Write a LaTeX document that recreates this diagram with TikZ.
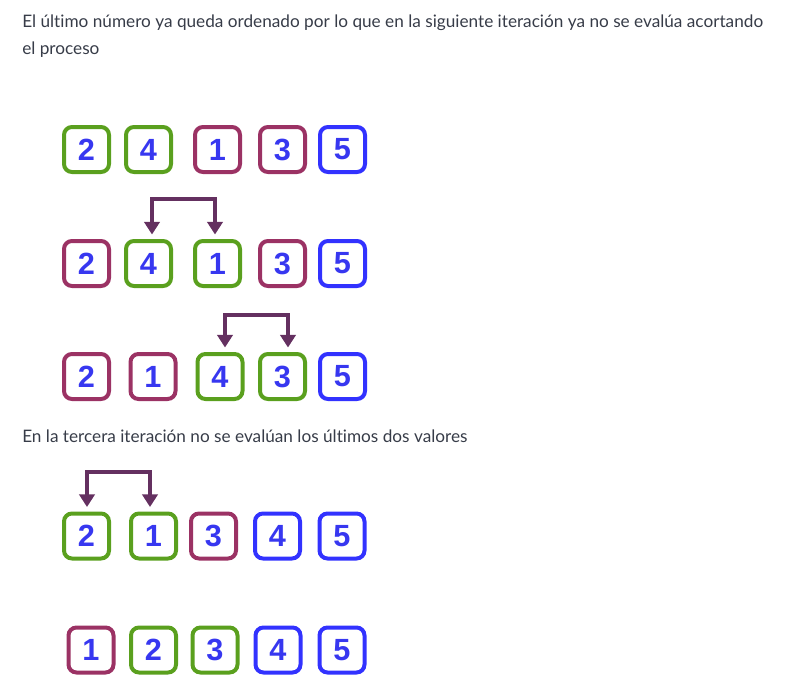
\documentclass[tikz,border=0pt]{standalone}
\usepackage{fontspec}
\setmainfont{Lato}[Ligatures={NoCommon}]
\newfontfamily\digitfont{Liberation Sans}
\usetikzlibrary{arrows.meta}
\definecolor{txtgray}{RGB}{55,60,72}
\definecolor{bgreen}{RGB}{90,160,30}
\definecolor{bmaroon}{RGB}{155,50,100}
\definecolor{bblue}{RGB}{50,50,255}
\definecolor{digitblue}{RGB}{55,55,240}
\definecolor{arrowpurple}{RGB}{100,48,96}
\tikzset{
  numbox/.style={draw, line width=3pt, rounded corners=6pt, minimum size=33.75pt, inner sep=0pt,
    font=\digitfont\bfseries\fontsize{23}{23}\selectfont, text=digitblue},
  gbox/.style={numbox, draw=bgreen},
  mbox/.style={numbox, draw=bmaroon},
  ubox/.style={numbox, draw=bblue},
  swap/.style={draw=arrowpurple, line width=2.8pt, -{Triangle[width=11.5pt,length=9.5pt]}},
  swapline/.style={draw=arrowpurple, line width=2.8pt},
  para/.style={anchor=base west, inner sep=0pt, text=txtgray, font=\fontsize{12.9}{16}\selectfont}
}
\begin{document}
\begin{tikzpicture}[x=0.75pt,y=-0.75pt]
\useasboundingbox (0,0) rectangle (797,689);
\node[para] (t1) at (22,27) {El último número ya queda ordenado por lo que en la siguiente iteración ya no se evalúa acortando};
\node[para] (t2) at (22,54) {el proceso};
\node[para] (t3) at (22,442) {En la tercera iteración no se evalúan los últimos dos valores};
% row 1
\node[gbox] (a1) at (86.5,149.5) {2};
\node[gbox] (a2) at (148.5,149.5) {4};
\node[mbox] (a3) at (217.5,149.5) {1};
\node[mbox] (a4) at (282.5,149.5) {3};
\node[ubox] (a5) at (342.5,149.5) {5};
% row 2
\node[mbox] (b1) at (86.5,263.5) {2};
\node[gbox] (b2) at (148.5,263.5) {4};
\node[gbox] (b3) at (217.5,263.5) {1};
\node[mbox] (b4) at (282.5,263.5) {3};
\node[ubox] (b5) at (342.5,263.5) {5};
% row 3
\node[mbox] (c1) at (86.5,376.5) {2};
\node[mbox] (c2) at (153,376.5) {1};
\node[gbox] (c3) at (220,376.5) {4};
\node[gbox] (c4) at (282.5,376.5) {3};
\node[ubox] (c5) at (342.5,376.5) {5};
% row 4
\node[gbox] (d1) at (86.5,536) {2};
\node[gbox] (d2) at (153.5,536) {1};
\node[mbox] (d3) at (213.5,536) {3};
\node[ubox] (d4) at (277.5,536) {4};
\node[ubox] (d5) at (342,536) {5};
% row 5
\node[mbox] (e1) at (91,650) {1};
\node[gbox] (e2) at (153.5,650) {2};
\node[gbox] (e3) at (215,650) {3};
\node[ubox] (e4) at (278,650) {4};
\node[ubox] (e5) at (342,650) {5};
% swap arrows
\coordinate (p1) at (152,199);
\coordinate (p2) at (215,199);
\draw[swap] (p1) -- ([xshift=3.5*0.75pt,yshift=4.5*0.75pt]b2.north);
\draw[swapline] ([xshift=-1.4pt]p1) -- ([xshift=1.4pt]p2);
\draw[swap] (p2) -- ([xshift=-2.5*0.75pt,yshift=4.5*0.75pt]b3.north);
\coordinate (q1) at (225,315);
\coordinate (q2) at (288,315);
\draw[swap] (q1) -- ([xshift=5*0.75pt,yshift=4.5*0.75pt]c3.north);
\draw[swapline] ([xshift=-1.4pt]q1) -- ([xshift=1.4pt]q2);
\draw[swap] (q2) -- ([xshift=5.5*0.75pt,yshift=4.5*0.75pt]c4.north);
\coordinate (s1) at (87,472);
\coordinate (s2) at (150,472);
\draw[swap] (s1) -- ([xshift=0.5*0.75pt,yshift=4.5*0.75pt]d1.north);
\draw[swapline] ([xshift=-1.4pt]s1) -- ([xshift=1.4pt]s2);
\draw[swap] (s2) -- ([xshift=-3.5*0.75pt,yshift=4.5*0.75pt]d2.north);
\end{tikzpicture}
\end{document}
